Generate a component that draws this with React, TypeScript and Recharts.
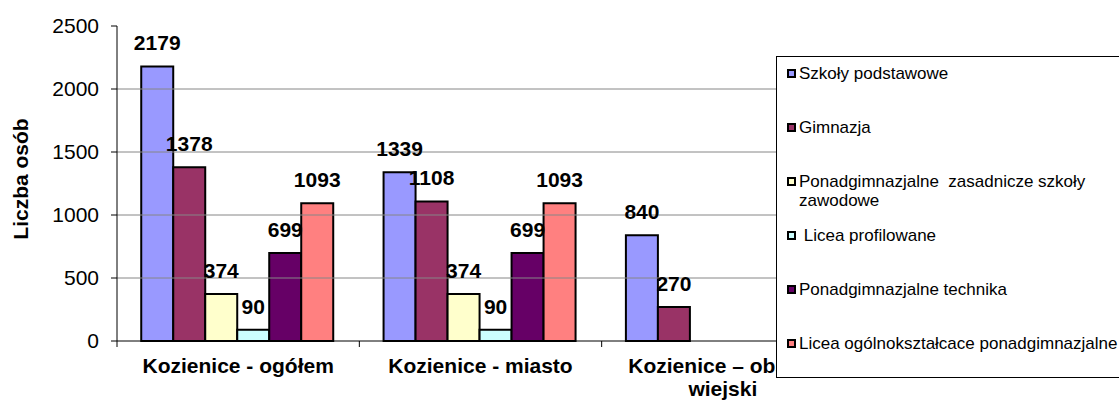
import React from 'react';
import { BarChart, Bar, XAxis, YAxis, ReferenceLine, LabelList, Legend } from 'recharts';

const categories = ['Kozienice - ogółem', 'Kozienice - miasto', 'Kozienice – obszar wiejski'];
const szkolyPodstawowe = [2179, 1339, 840];
const gimnazja = [1378, 1108, 270];
const zasadniczeZawodowe = [374, 374, null];
const liceaProfilowane = [90, 90, null];
const technika = [699, 699, null];
const liceaOgolnoksztalcace = [1093, 1093, null];

const yTicks = [0, 500, 1000, 1500, 2000, 2500];
const gridValues = [500, 1000, 1500, 2000];

const series = [
  { key: 'sp', name: 'Szkoły podstawowe', values: szkolyPodstawowe, color: '#9999FF' },
  { key: 'gim', name: 'Gimnazja', values: gimnazja, color: '#993366' },
  { key: 'zsz', name: 'Ponadgimnazjalne  zasadnicze szkoły zawodowe', values: zasadniczeZawodowe, color: '#FFFFCC' },
  { key: 'lp', name: ' Licea profilowane', values: liceaProfilowane, color: '#CCFFFF' },
  { key: 'tech', name: 'Ponadgimnazjalne technika', values: technika, color: '#660066' },
  { key: 'lo', name: 'Licea ogólnokształcace ponadgimnazjalne', values: liceaOgolnoksztalcace, color: '#FF8080' },
];

const data = categories.map((name, i) => {
  const row: any = { name };
  series.forEach(s => (row[s.key] = s.values[i]));
  return row;
});

const W = 1119;
const H = 401;
const margin = { top: 26, right: 275, bottom: 0, left: 0 };
const Y_AXIS_W = 117;
const step = (W - margin.right - margin.left - Y_AXIS_W) / categories.length;

// long labels wrap: last word goes to a second line
const wrapLabel = (s: string) => {
  if (s.length <= 20) return [s];
  const i = s.lastIndexOf(' ');
  return [s.slice(0, i), s.slice(i + 1)];
};

// category label + tick marks at the category boundaries (Excel style)
const CategoryTick = (props: any) => {
  const { x, y, payload, index } = props;
  const lines = wrapLabel(String(payload.value));
  return (
    <g>
      <line x1={x - step / 2} x2={x - step / 2} y1={y} y2={y + 6} stroke='#000' />
      {index === categories.length - 1 && (
        <line x1={x + step / 2} x2={x + step / 2} y1={y} y2={y + 6} stroke='#000' />
      )}
      <text x={x} y={y + 32} textAnchor='middle' fontSize={21} fontWeight='bold' fill='#000'>
        {lines.map((l, i) => (
          <tspan key={i} x={x} dy={i === 0 ? 0 : 23}>
            {l}
          </tspan>
        ))}
      </text>
    </g>
  );
};

const renderLegend = () => (
  <div
    style={{
      position: 'relative',
      width: 360,
      height: 322,
      border: '1px solid #000',
      background: '#fff',
      boxSizing: 'border-box',
    }}
  >
    {series.map((s, i) => (
      <div
        key={s.key}
        style={{ position: 'absolute', left: 10, top: 7 + i * 54, display: 'flex', alignItems: 'flex-start' }}
      >
        <span
          style={{
            width: 9,
            height: 9,
            border: '2px solid #000',
            background: s.color,
            boxSizing: 'border-box',
            marginTop: 5,
            marginRight: 3,
            flexShrink: 0,
          }}
        />
        <span style={{ width: 325, fontSize: 17, lineHeight: '19px', whiteSpace: 'pre-wrap', color: '#000' }}>
          {s.name}
        </span>
      </div>
    ))}
  </div>
);

export default function App() {
  return (
    <div
      style={{
        position: 'absolute',
        left: 0,
        top: 0,
        width: W,
        height: H,
        overflow: 'hidden',
        background: '#fff',
        fontFamily: '"Liberation Sans", Arial, sans-serif',
      }}
    >
      <BarChart width={W} height={H} data={data} margin={margin} barCategoryGap='10%' barGap={0}>
        {gridValues.map(v => (
          <ReferenceLine key={v} y={v} stroke='#868686' strokeWidth={1} />
        ))}
        <XAxis
          dataKey='name'
          height={60}
          axisLine={{ stroke: '#000' }}
          tickLine={false}
          tickSize={0}
          tickMargin={0}
          interval={0}
          tick={<CategoryTick />}
        />
        <YAxis
          width={Y_AXIS_W}
          domain={[0, 2500]}
          ticks={yTicks}
          axisLine={{ stroke: '#000' }}
          tickLine={{ stroke: '#000' }}
          tickSize={6}
          tickMargin={12}
          tick={{ fill: '#000', fontSize: 21 }}
          label={{
            content: () => (
              <text
                x={20}
                y={179}
                transform='rotate(-90 20 179)'
                textAnchor='middle'
                dominantBaseline='central'
                fontSize={21}
                fontWeight='bold'
                fill='#000'
              >
                Liczba osób
              </text>
            ),
          }}
        />
        {series.map(s => (
          <Bar
            key={s.key}
            dataKey={s.key}
            name={s.name}
            fill={s.color}
            stroke='#000'
            strokeWidth={2}
            isAnimationActive={false}
          >
            <LabelList
              dataKey={s.key}
              position='top'
              offset={16}
              fontSize={21}
              fontWeight='bold'
              fill='#000'
              formatter={(v: any) => (v == null ? '' : v)}
            />
          </Bar>
        ))}
        <Legend
          layout='horizontal'
          verticalAlign='middle'
          align='center'
          content={renderLegend}
          wrapperStyle={{ left: 776, top: 56, width: 360, height: 322 }}
        />
      </BarChart>
    </div>
  );
}
